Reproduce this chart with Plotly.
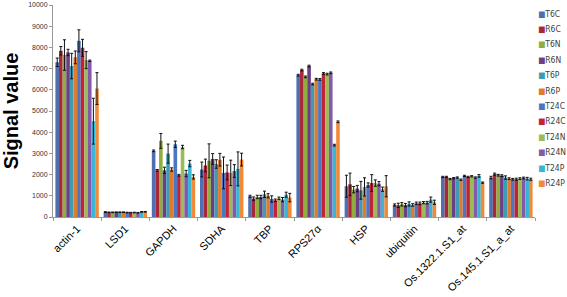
import plotly.graph_objects as go

categories = ["actin-1", "LSD1", "GAPDH", "SDHA", "TBP", "RPS27α", "HSP",
              "ubiquitin", "Os.1322.1.S1_at", "Os.145.1.S1_a_at"]
series_names = ["T6C", "R6C", "T6N", "R6N", "T6P", "R6P",
                "T24C", "R24C", "T24N", "R24N", "T24P", "R24P"]
series_colors = ["#4F6FAE", "#A8283A", "#8FAE3E", "#6A3F85", "#3E9BB5", "#E07B2C",
                 "#4A76C2", "#C22236", "#9BBB59", "#8559A9", "#38B6D6", "#F08A38"]

# values per series, in category order
T6C  = [7300, 230, 3120, 2240, 976, 6690, 1450, 567, 1890, 1860]
R6C  = [7840, 220, 2200, 2430, 866, 6930, 1540, 550, 1890, 2020]
T6N  = [7640, 220, 3590, 2650, 945, 6610, 1290, 600, 1790, 1970]
R6N  = [7760, 225, 2200, 2740, 945, 7120, 1340, 560, 1830, 1950]
T6P  = [7120, 225, 2990, 2500, 1070, 6270, 1260, 614, 1860, 1860]
R6P  = [7530, 225, 2240, 2700, 1000, 6500, 1420, 570, 1760, 1810]
T24C = [8310, 210, 3430, 2080, 850, 6490, 1510, 645, 1940, 1780]
R24C = [7980, 205, 1970, 2100, 787, 6770, 1600, 645, 1890, 1780]
T24N = [7400, 210, 3300, 2080, 880, 6740, 1600, 677, 1920, 1810]
R24N = [7370, 200, 2050, 2170, 820, 6800, 1570, 677, 1860, 1840]
T24P = [4520, 240, 2520, 2270, 1050, 3390, 1310, 820, 1940, 1810]
R24P = [6060, 245, 1890, 2710, 915, 4490, 1450, 693, 1620, 1780]

# error values (± standard deviation)
T6C_err  = [200, 20, 40, 350, 50, 40, 520, 50, 30, 60]
R6C_err  = [200, 15, 40, 300, 80, 40, 530, 100, 30, 50]
T6N_err  = [720, 15, 350, 800, 80, 40, 150, 80, 30, 40]
R6N_err  = [150, 15, 150, 250, 80, 40, 150, 80, 30, 40]
T6P_err  = [600, 15, 450, 200, 150, 40, 420, 100, 30, 80]
R6P_err  = [300, 15, 80, 300, 100, 40, 430, 60, 30, 40]
T24C_err = [520, 15, 150, 750, 150, 40, 100, 60, 30, 40]
R24C_err = [400, 15, 40, 350, 60, 40, 400, 60, 30, 50]
T24N_err = [400, 15, 80, 600, 60, 40, 150, 50, 30, 40]
R24N_err = [30, 15, 150, 300, 100, 40, 100, 60, 30, 40]
T24P_err = [1080, 15, 150, 800, 120, 40, 100, 120, 60, 60]
R24P_err = [750, 15, 100, 300, 200, 40, 500, 100, 30, 50]

values = [T6C, R6C, T6N, R6N, T6P, R6P, T24C, R24C, T24N, R24N, T24P, R24P]
errors = [T6C_err, R6C_err, T6N_err, R6N_err, T6P_err, R6P_err,
          T24C_err, R24C_err, T24N_err, R24N_err, T24P_err, R24P_err]

y_ticks = [0, 1000, 2000, 3000, 4000, 5000, 6000, 7000, 8000, 9000, 10000]

W, H = 567, 297
ML, MR, MT, MB = 53, 32, 5, 80
plot_w = W - ML - MR
plot_h = H - MT - MB

fig = go.Figure()
for name, col, vals, errs in zip(series_names, series_colors, values, errors):
    fig.add_trace(go.Bar(
        name=name, x=categories, y=vals,
        marker=dict(color=col, line=dict(width=0)),
        error_y=dict(type="data", array=errs, visible=True,
                     color="#111111", thickness=1, width=1.5),
    ))

# legend drawn as text annotations (compact spacing like the original)
legend_left_px = 536
legend_top_px = 13.5
legend_step_px = 15.4
for i, (name, col) in enumerate(zip(series_names, series_colors)):
    ypx = legend_top_px + i * legend_step_px
    fig.add_annotation(
        xref="paper", yref="paper",
        x=(legend_left_px - ML) / plot_w,
        y=(H - MB - ypx) / plot_h,
        xanchor="left", yanchor="middle", showarrow=False,
        text=f'<span style="color:{col}">■</span>{name}',
        font=dict(size=8.5, color="#404040",
                  family="DejaVu Sans Condensed, Liberation Sans, sans-serif"),
    )

fig.update_layout(
    width=W, height=H,
    barmode="group", bargap=0.1, bargroupgap=0,
    paper_bgcolor="white", plot_bgcolor="white",
    margin=dict(l=ML, r=MR, t=MT, b=MB, autoexpand=False),
    font=dict(family="Liberation Sans, Arial, sans-serif", color="#222222"),
    showlegend=False,
    xaxis=dict(
        type="category", tickangle=-45, tickson="boundaries",
        ticks="outside", ticklen=3, tickcolor="#999999",
        showline=True, linecolor="#999999", linewidth=1,
        showgrid=False, tickfont=dict(size=11, color="#000000"),
        automargin=False,
    ),
    yaxis=dict(
        range=[0, 10000], tickvals=y_ticks, tickformat="d",
        ticks="outside", ticklen=3, tickcolor="#999999",
        showline=True, linecolor="#999999", linewidth=1,
        showgrid=False, zeroline=False,
        tickfont=dict(size=7, color="#333333"),
        title=dict(text="<b>Signal value</b>",
                   font=dict(size=20, color="#000000"), standoff=14),
        automargin=False,
    ),
)

fig.write_html("out.html", config={"displayModeBar": False},
               post_script="document.body.style.margin='0';")
